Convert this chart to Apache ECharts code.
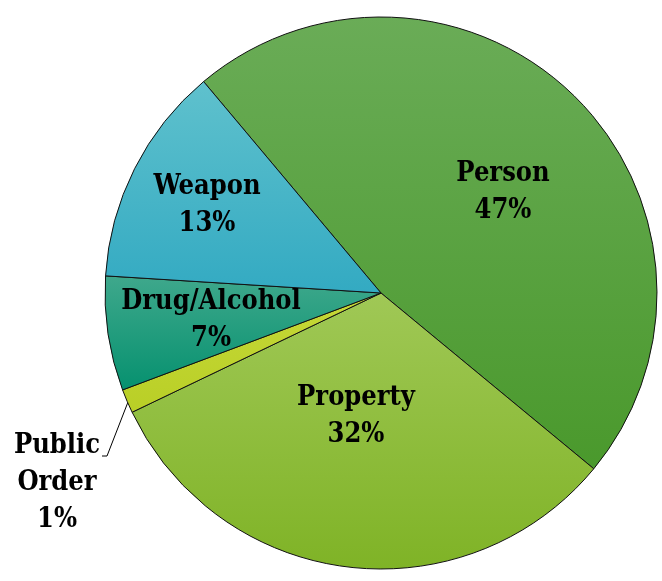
<!DOCTYPE html>
<html>
<head>
<meta charset="utf-8">
<script src="https://cdn.jsdelivr.net/npm/echarts@6/dist/echarts.min.js"></script>
<style>
html,body{margin:0;padding:0;background:#fff;}
#chart{width:662px;height:581px;}
</style>
</head>
<body>
<div id="chart"></div>
<script>
// Data
var categories = ["Person", "Property", "Public Order", "Drug/Alcohol", "Weapon"];
var shares = [47.1, 31.9, 1.4, 6.7, 12.9];
var labelTexts = ["Person\n47%", "Property\n32%", "Public\nOrder\n1%", "Drug/Alcohol\n7%", "Weapon\n13%"];

// Styles (not data)
var gradients = [
  ["#6aac57", "#4a992c"],
  ["#a0c856", "#7fb326"],
  ["#c6d838", "#b9cf26"],
  ["#3fa88c", "#06916f"],
  ["#5fc1cd", "#33aac2"]
];
var labelPos = [
  [503, 192],
  [356, 416],
  [57, 483],
  [211, 320],
  [207, 205]
];
var publicLeader = [[128, 402], [107, 456], [102, 456]];

var chart = echarts.init(document.getElementById('chart'));
var data = categories.map(function (c, i) {
  var item = {
    name: c,
    value: shares[i],
    itemStyle: {
      color: new echarts.graphic.LinearGradient(0, 0, 0, 1, [
        { offset: 0, color: gradients[i][0] },
        { offset: 1, color: gradients[i][1] }
      ])
    },
    label: {
      formatter: labelTexts[i]
    }
  };
  if (i === 2) {
    item.label.position = 'outside';
    item.labelLine = { show: true, length: 30, length2: 4, smooth: false, lineStyle: { color: '#000', width: 1 } };
  } else {
    item.label.position = 'inside';
    item.labelLine = { show: false };
  }
  return item;
});

chart.setOption({
  animation: false,
  series: [{
    type: 'pie',
    center: [381, 293],
    radius: 276,
    startAngle: 130,
    clockwise: true,
    avoidLabelOverlap: false,
    itemStyle: { borderColor: '#111', borderWidth: 1 },
    label: {
      show: true,
      color: '#000',
      fontFamily: 'DejaVu Serif Condensed, DejaVu Serif, serif',
      fontWeight: 'bold',
      fontSize: 27,
      lineHeight: 37,
      align: 'center'
    },
    emphasis: { disabled: true },
    labelLayout: function (params) {
      var i = params.dataIndex;
      var p = labelPos[i];
      var h = params.labelRect.height;
      var res = { x: p[0], y: p[1] - h / 2, align: 'center', verticalAlign: 'top' };
      if (i === 2) res.labelLinePoints = publicLeader;
      return res;
    },
    data: data
  }]
});
</script>
</body>
</html>
